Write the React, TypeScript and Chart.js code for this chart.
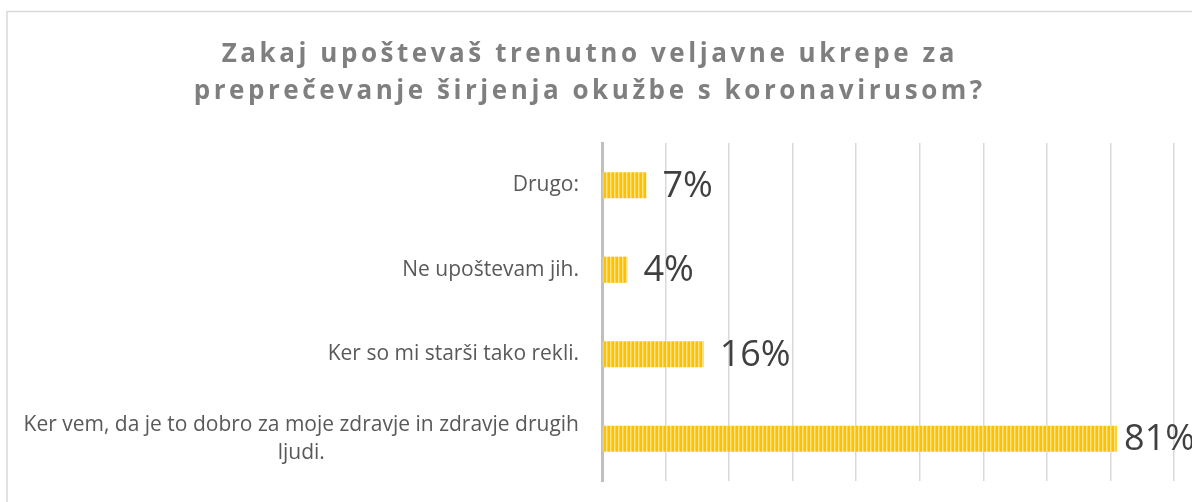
import React, { useEffect, useRef } from "react";
import { Chart, registerables } from "chart.js";

Chart.register(...registerables);

const titleLines = [
  "Zakaj upoštevaš trenutno veljavne ukrepe za",
  "preprečevanje širjenja okužbe s koronavirusom?",
];
const categories: (string | string[])[] = [
  "Drugo:",
  "Ne upoštevam jih.",
  "Ker so mi starši tako rekli.",
  ["Ker vem, da je to dobro za moje zdravje in zdravje drugih", "ljudi."],
];
const values = [7, 4, 16, 81];
const valueLabels = ["7%", "4%", "16%", "81%"];
const axisMax = 90;
const axisStep = 10;

function makePattern(): CanvasPattern | string {
  const c = document.createElement("canvas");
  c.width = 4;
  c.height = 4;
  const x = c.getContext("2d");
  if (!x) return "#FFC000";
  const cols = ["#FFC000", "#FFC000", "#FFE38A", "#FFCF40"];
  cols.forEach((col, i) => {
    x.fillStyle = col;
    x.fillRect(i, 0, 1, 4);
  });
  const p = x.createPattern(c, "repeat");
  return p || "#FFC000";
}

const decorPlugin = {
  id: "decor",
  beforeDraw(chart: any) {
    const ctx = chart.ctx;
    ctx.save();
    ctx.strokeStyle = "#d9d9d9";
    ctx.lineWidth = 1.5;
    ctx.strokeRect(7, 11.5, 1300, 600);
    ctx.restore();
  },
  afterDraw(chart: any) {
    const ctx = chart.ctx;
    const yScale = chart.scales.y;
    const xScale = chart.scales.x;
    ctx.save();
    // Title
    ctx.font = "bold 26px 'Open Sans'";
    ctx.fillStyle = "#7f7f7f";
    ctx.textBaseline = "alphabetic";
    ctx.textAlign = "left";
    const spacing = 3.55;
    (ctx as any).letterSpacing = spacing + "px";
    const baselines = [62, 99];
    titleLines.forEach((line, i) => {
      const w = ctx.measureText(line).width - spacing;
      ctx.fillText(line, 588 - w / 2, baselines[i]);
    });
    (ctx as any).letterSpacing = "0px";

    // Category labels
    ctx.font = "21px 'Open Sans'";
    ctx.fillStyle = "#595959";
    ctx.textBaseline = "middle";
    const rightEdge = 579;
    const lh = 28;
    categories.forEach((lab, i) => {
      const lines = Array.isArray(lab) ? lab : [lab];
      const widths = lines.map((l) => ctx.measureText(l).width);
      const maxW = Math.max(...widths);
      const cy = yScale.getPixelForValue(i);
      const startY = cy - ((lines.length - 1) * lh) / 2;
      lines.forEach((l, j) => {
        const x = rightEdge - maxW / 2 - widths[j] / 2;
        ctx.fillText(l, x, startY + j * lh);
      });
    });

    // Value labels
    ctx.font = "36px 'Open Sans'";
    ctx.fillStyle = "#404040";
    ctx.textBaseline = "middle";
    values.forEach((v, i) => {
      const w = ctx.measureText(valueLabels[i]).width;
      const x = Math.min(xScale.getPixelForValue(v) + 16, chart.width - w + 3);
      const y = yScale.getPixelForValue(i);
      ctx.fillText(valueLabels[i], x, y + 1);
    });
    ctx.restore();
  },
};

export default function App() {
  const ref = useRef<HTMLCanvasElement>(null);
  useEffect(() => {
    if (!ref.current) return;
    const chart = new Chart(ref.current, {
      type: "bar",
      data: {
        labels: categories as any,
        datasets: [
          {
            data: values,
            backgroundColor: makePattern() as any,
            borderWidth: 0,
            categoryPercentage: 1,
            barPercentage: 0.31,
          },
        ],
      },
      options: {
        indexAxis: "y",
        animation: false,
        responsive: true,
        maintainAspectRatio: false,
        layout: { padding: { left: 602, right: 18, top: 143, bottom: 21 } },
        plugins: {
          legend: { display: false },
          tooltip: { enabled: false },
          title: { display: false },
        },
        scales: {
          x: {
            min: 0,
            max: axisMax,
            ticks: { display: false, stepSize: axisStep },
            grid: { color: "#d9d9d9", lineWidth: 1.5, drawTicks: false },
            border: { display: false },
            afterFit: (s: any) => {
              s.height = 0;
            },
          },
          y: {
            ticks: { display: false },
            grid: { display: false, drawTicks: false },
            border: { display: true, color: "#bfbfbf", width: 3 },
            afterFit: (s: any) => {
              s.width = 0;
            },
          },
        },
      },
      plugins: [decorPlugin],
    });
    return () => chart.destroy();
  }, []);
  return (
    <div style={{ position: "fixed", left: 0, top: 0, width: 1192, height: 502, background: "#fff" }}>
      <canvas ref={ref} />
    </div>
  );
}
